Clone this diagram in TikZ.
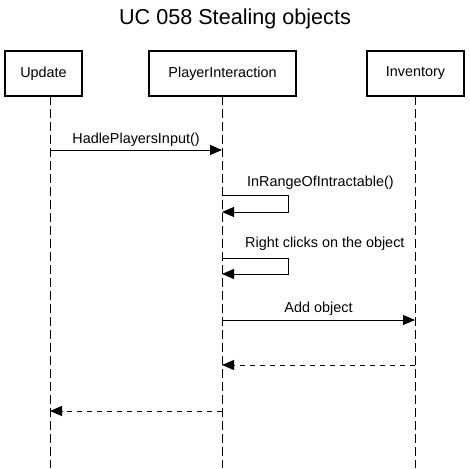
\documentclass[tikz,border=0pt]{standalone}
\usepackage{fontspec}
\setmainfont{Liberation Sans}
\usetikzlibrary{arrows.meta}
\begin{document}
\begin{tikzpicture}[x=1pt,y=-1pt,
  actor/.style={draw, line width=1.6pt, minimum height=45pt, inner sep=0pt, font=\fontsize{14.4}{17}\selectfont},
  lifeline/.style={line width=1pt, dash pattern=on 9pt off 4pt},
  msg/.style={line width=0.9pt, -{Triangle[length=12pt,width=10pt]}},
  ret/.style={line width=0.9pt, dash pattern=on 5pt off 5pt, -{Triangle[length=12pt,width=10pt]}},
  lbl/.style={inner sep=0pt, font=\fontsize{14.4}{17}\selectfont}]
\useasboundingbox (0,0) rectangle (470,468);
\fill[white] (0,0) rectangle (470,468);
\node[inner sep=0pt, font=\fontsize{21.6}{25}\selectfont] (title) at (235,19) {UC 058 Stealing objects};
\node[actor, minimum width=77pt] (upd) at (43.5,73.5) {Update};
\node[actor, minimum width=147pt] (pi) at (222.5,73.5) {PlayerInteraction};
\node[actor, minimum width=97pt] (inv) at (415.5,73.5) {Inventory};
\coordinate (updend) at (50,468);
\coordinate (piend) at (222,468);
\coordinate (invend) at (415,468);
\coordinate (updtop) at (50,96);
\coordinate (pitop) at (222,96);
\coordinate (invtop) at (415,96);
\draw[lifeline] (updtop) -- (updend);
\draw[lifeline] (pitop) -- (piend);
\draw[lifeline] (invtop) -- (invend);
% message 1
\coordinate (m1a) at (50,150);
\coordinate (m1b) at (222,150);
\draw[msg] (m1a) -- (m1b) node[lbl, midway, above=3pt] {HadlePlayersInput()};
% self loop 1
\coordinate (s1a) at (222,195);
\coordinate (s1c) at (288,195);
\coordinate (s1b) at (222,212);
\draw[msg] (s1a) -- (s1c) |- (s1b);
\node[lbl, anchor=west] (s1l) at (247,183) {InRangeOfIntractable()};
% self loop 2
\coordinate (s2a) at (222,258);
\coordinate (s2c) at (288,258);
\coordinate (s2b) at (222,274);
\draw[msg] (s2a) -- (s2c) |- (s2b);
\node[lbl, anchor=west] (s2l) at (245,244) {Right clicks on the object};
% message add
\coordinate (m2a) at (222,320);
\coordinate (m2b) at (415,320);
\draw[msg] (m2a) -- (m2b) node[lbl, midway, above=4pt] {Add object};
% returns
\coordinate (r1a) at (415,365);
\coordinate (r1b) at (222,365);
\draw[ret] (r1a) -- (r1b);
\coordinate (r2a) at (222,411);
\coordinate (r2b) at (50,411);
\draw[ret] (r2a) -- (r2b);
\end{tikzpicture}
\end{document}
